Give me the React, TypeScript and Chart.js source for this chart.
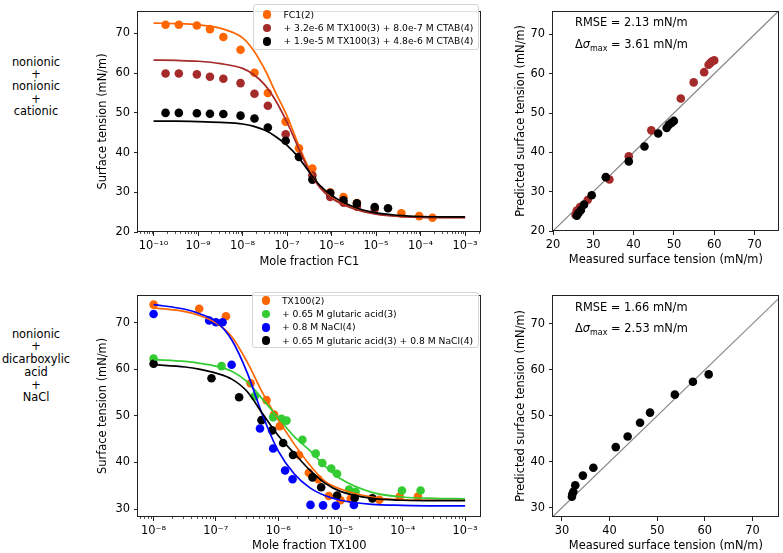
import React, { useEffect, useRef } from 'react';
import { Chart, registerables } from 'chart.js';

Chart.register(...registerables);

const FONT = "'DejaVu Sans', 'Liberation Sans', sans-serif";
const FS = 11.4;
Chart.defaults.font.family = FONT;
Chart.defaults.font.size = FS;
Chart.defaults.color = '#000';

const ORANGE = '#ff6600';
const BROWN = '#a52a2a';
const GREEN = '#33cc33';
const BLUE = '#0000ff';
const BLACK = '#000000';
const DIAG = '#888888';

// ---------- Top-left: FC1 system (measured points) ----------
const fc1X = [1.86e-10, 3.7e-10, 9.4e-10, 1.85e-9, 3.7e-9, 9.0e-9, 1.85e-8, 3.7e-8, 9.3e-8, 1.85e-7, 3.7e-7, 9.3e-7, 1.85e-6, 3.7e-6, 3.7e-5, 9.3e-5, 1.85e-4];
const fc1Y = [72.2, 72.2, 72.0, 71.1, 69.1, 65.9, 60.1, 55.0, 47.8, 41.1, 36.0, 30.0, 28.8, 27.3, 24.7, 24.0, 23.6];
const fc1MixAX = [1.86e-10, 3.7e-10, 9.4e-10, 1.85e-9, 3.7e-9, 9.0e-9, 1.85e-8, 3.7e-8, 9.3e-8, 1.85e-7, 3.7e-7, 9.3e-7, 1.85e-6, 3.7e-6, 9.3e-6];
const fc1MixAY = [59.9, 59.9, 59.7, 59.1, 58.6, 57.5, 54.8, 51.8, 44.6, 39.0, 34.3, 28.8, 27.4, 26.4, 25.8];
const fc1MixBX = [1.86e-10, 3.7e-10, 9.4e-10, 1.85e-9, 3.7e-9, 9.0e-9, 1.85e-8, 3.7e-8, 9.3e-8, 1.85e-7, 3.7e-7, 9.3e-7, 1.85e-6, 3.7e-6, 9.3e-6, 1.85e-5];
const fc1MixBY = [50.0, 50.0, 49.9, 49.8, 49.7, 49.3, 48.6, 46.3, 43.0, 38.9, 33.2, 29.8, 28.0, 27.2, 26.3, 26.0];

// fitted curves
const fc1CurveX = [1e-10, 3.2e-10, 1e-9, 3.2e-9, 1e-8, 1.8e-8, 3.2e-8, 5.6e-8, 1e-7, 1.8e-7, 3.2e-7, 5.6e-7, 1e-6, 3.2e-6, 1e-5, 3.2e-5, 1e-4, 3.2e-4, 1e-3];
const fc1CurveY = [72.6, 72.5, 72.2, 71.3, 68.9, 65.6, 60.8, 55.0, 49.2, 42.0, 35.7, 31.3, 28.7, 25.9, 24.6, 24.0, 23.8, 23.7, 23.7];
const fc1MixACurveY = [63.3, 63.2, 63.0, 62.4, 61.2, 59.6, 57.0, 53.0, 47.6, 41.2, 35.2, 31.0, 28.5, 25.8, 24.5, 23.9, 23.7, 23.6, 23.6];
const fc1MixBCurveY = [47.9, 47.9, 47.8, 47.6, 47.2, 46.6, 45.6, 44.0, 41.8, 38.8, 35.0, 31.6, 29.2, 26.3, 24.8, 24.2, 23.9, 23.8, 23.8];

// ---------- Bottom-left: TX100 system ----------
const tx100X = [1e-8, 5.4e-8, 1.45e-7, 3.6e-7, 6.5e-7, 8.6e-7, 1.06e-6, 2.16e-6, 3.1e-6, 4.4e-6, 6.5e-6, 1.0e-5, 1.46e-5, 4.2e-5, 8.9e-5, 1.75e-4];
const tx100Y = [73.9, 73.0, 71.4, 57.0, 53.4, 50.3, 47.8, 41.6, 37.8, 36.4, 32.8, 31.9, 32.2, 32.0, 32.7, 32.7];
const glutX = [1e-8, 1.23e-7, 4.2e-7, 8.3e-7, 1.13e-6, 1.36e-6, 2.45e-6, 4.0e-6, 5.1e-6, 7.1e-6, 8.8e-6, 1.37e-5, 1.75e-5, 9.7e-5, 1.93e-4];
const glutY = [62.3, 60.7, 54.2, 49.7, 49.4, 49.0, 44.9, 41.9, 39.9, 38.7, 37.6, 34.2, 33.7, 34.0, 34.0];
const naclX = [1e-8, 7.8e-8, 1e-7, 1.28e-7, 1.79e-7, 5.1e-7, 8.3e-7, 1.29e-6, 1.7e-6, 3.3e-6, 5.25e-6, 8.4e-6, 1.64e-5];
const naclY = [71.9, 70.5, 70.1, 70.1, 61.0, 47.3, 43.0, 38.3, 36.4, 30.9, 30.8, 30.7, 30.9];
const bothX = [1e-8, 8.5e-8, 2.36e-7, 5.4e-7, 8.0e-7, 1.2e-6, 1.73e-6, 3.55e-6, 4.9e-6, 8.8e-6, 1.69e-5, 3.25e-5];
const bothY = [61.2, 58.1, 54.0, 49.1, 46.9, 44.2, 41.6, 36.8, 34.7, 32.9, 32.4, 32.3];

const tx100CurveX = [1e-8, 3.2e-8, 5.6e-8, 1e-7, 1.8e-7, 3.2e-7, 5.6e-7, 1e-6, 1.8e-6, 3.2e-6, 5.6e-6, 1e-5, 3.2e-5, 1e-4, 3.2e-4, 1e-3];
const tx100CurveY = [73.2, 72.4, 71.5, 70.0, 67.0, 61.5, 55.0, 49.2, 44.0, 39.5, 36.0, 34.3, 32.6, 32.0, 31.9, 31.9];
const glutCurveY = [62.1, 61.7, 61.3, 60.7, 59.6, 57.3, 53.6, 49.6, 45.6, 42.6, 39.3, 36.5, 33.6, 32.6, 32.3, 32.2];
const naclCurveY = [73.9, 72.9, 71.9, 70.3, 66.3, 59.2, 50.2, 42.5, 37.6, 34.6, 32.9, 31.9, 31.0, 30.8, 30.7, 30.7];
const bothCurveY = [61.0, 60.5, 60.0, 59.2, 57.9, 55.2, 50.5, 45.8, 42.0, 38.4, 35.6, 33.8, 32.3, 31.9, 31.8, 31.8];

// ---------- Right panels: parity plots ----------
const parityAMeasured = [60.0, 59.4, 59.0, 58.6, 57.5, 54.9, 51.7, 44.4, 38.8, 34.0, 28.6, 26.7, 25.9, 25.6];
const parityAPredicted = [63.4, 63.1, 62.7, 62.3, 60.4, 57.8, 53.7, 45.6, 39.0, 33.1, 27.9, 26.1, 25.2, 24.1];
const parityBMeasured = [50.0, 49.4, 48.75, 48.2, 46.1, 42.7, 38.8, 33.1, 29.6, 27.7, 26.9, 26.3, 25.9];
const parityBPredicted = [48.0, 47.5, 47.0, 46.2, 44.8, 41.5, 37.7, 33.7, 29.1, 26.7, 25.3, 24.5, 23.9];
const parityCMeasured = [60.8, 57.5, 53.7, 48.5, 46.4, 43.8, 41.3, 36.6, 34.4, 32.8, 32.4, 32.2, 32.1];
const parityCPredicted = [59.0, 57.4, 54.6, 50.7, 48.5, 45.5, 43.2, 38.7, 37.0, 34.9, 33.5, 33.0, 32.4];
const diagonal = [0, 100];

// ---------- tick values ----------
const fc1Decades = [1e-10, 1e-9, 1e-8, 1e-7, 1e-6, 1e-5, 1e-4, 1e-3];
const tx100Decades = [1e-8, 1e-7, 1e-6, 1e-5, 1e-4, 1e-3];
const ticksFrom20 = [20, 30, 40, 50, 60, 70];
const ticksFrom30 = [30, 40, 50, 60, 70];

// ---------- texts ----------
const fc1Legend = ['FC1(2)', '+ 3.2e-6 M TX100(3) + 8.0e-7 M CTAB(4)', '+ 1.9e-5 M TX100(3) + 4.8e-6 M CTAB(4)'];
const tx100Legend = ['TX100(2)', '+ 0.65 M glutaric acid(3)', '+ 0.8 M NaCl(4)', '+ 0.65 M glutaric acid(3) + 0.8 M NaCl(4)'];
const groupTop = ['nonionic', '+', 'nonionic', '+', 'cationic'];
const groupBottom = ['nonionic', '+', 'dicarboxylic', 'acid', '+', 'NaCl'];

const SUP: Record<string, string> = { '-': '⁻', '0': '⁰', '1': '¹', '2': '²', '3': '³', '4': '⁴', '5': '⁵', '6': '⁶', '7': '⁷', '8': '⁸', '9': '⁹' };
const powLabel = (v: number) => '10' + String(Math.round(Math.log10(v))).split('').map((c) => SUP[c]).join('');

const zip = (xs: number[], ys: number[]) => xs.map((x, i) => ({ x, y: ys[i] }));
const zipSame = (xs: number[]) => xs.map((x) => ({ x, y: x }));

const pts = (label: string, xs: number[], ys: number[], color: string, order: number) => ({
  label, data: zip(xs, ys), backgroundColor: color, borderColor: color,
  pointRadius: 4.3, pointHoverRadius: 4.3, pointBorderWidth: 0, showLine: false, order,
});
const curve = (label: string, data: { x: number; y: number }[], color: string, order: number, width = 1.7) => ({
  label, data, borderColor: color, backgroundColor: color, borderWidth: width,
  pointRadius: 0, pointHoverRadius: 0, showLine: true, fill: false,
  cubicInterpolationMode: 'monotone', order,
});

const framePlugin = {
  id: 'frame',
  afterDraw(chart: any) {
    const { ctx, chartArea: a } = chart;
    ctx.save();
    ctx.strokeStyle = '#222';
    ctx.lineWidth = 1;
    const l = Math.round(a.left) - 0.5, t = Math.round(a.top) + 0.5;
    const r = Math.round(a.right) - 0.5, b = Math.round(a.bottom) - 0.5;
    ctx.strokeRect(l, t, r - l, b - t);
    // minor ticks on log x axes
    const sc = chart.scales.x;
    if (sc && sc.type === 'logarithmic') {
      ctx.lineWidth = 0.8;
      const lo = Math.floor(Math.log10(sc.min)), hi = Math.ceil(Math.log10(sc.max));
      for (let e = lo; e <= hi; e++) {
        for (let m = 2; m <= 9; m++) {
          const v = m * Math.pow(10, e);
          if (v < sc.min || v > sc.max) continue;
          const x = Math.round(sc.getPixelForValue(v)) + 0.5;
          ctx.beginPath();
          ctx.moveTo(x, b);
          ctx.lineTo(x, b + 2.5);
          ctx.stroke();
        }
      }
    }
    ctx.restore();
  },
};

const tickFont = { family: FONT, size: FS };
const gridOpts = { drawOnChartArea: false, drawTicks: true, tickLength: 4, color: '#222', lineWidth: 1 };

type AxisSpec = {
  type: 'linear' | 'logarithmic'; min: number; max: number; ticks: number[];
  title: string; size: number; titlePad: number; log?: boolean;
};

function axis(spec: AxisSpec, isX: boolean) {
  const a: any = {
    type: spec.type, min: spec.min, max: spec.max, position: isX ? 'bottom' : 'left',
    afterFit: (s: any) => { if (isX) s.height = spec.size; else s.width = spec.size; },
    afterBuildTicks: (s: any) => {
      s.ticks = spec.ticks.filter((v) => v >= s.min && v <= s.max).map((v) => ({ value: v }));
    },
    ticks: {
      autoSkip: false, maxRotation: 0, minRotation: 0, padding: isX ? 3 : 4,
      color: '#000', font: tickFont, includeBounds: false,
      callback: spec.type === 'logarithmic' ? (v: any) => powLabel(Number(v)) : (v: any) => String(v),
    },
    grid: gridOpts,
    border: { display: false },
    title: {
      display: true, text: spec.title, color: '#000', font: tickFont,
      padding: isX ? { top: 0, bottom: spec.titlePad } : { top: spec.titlePad, bottom: 0 },
    },
  };
  return a;
}

function config(datasets: any[], x: AxisSpec, y: AxisSpec, padding: any) {
  return {
    type: 'scatter',
    data: { datasets },
    options: {
      animation: false, responsive: true, maintainAspectRatio: false, devicePixelRatio: 1,
      events: [],
      layout: { padding },
      plugins: { legend: { display: false }, tooltip: { enabled: false } },
      scales: { x: axis(x, true), y: axis(y, false) },
    },
    plugins: [framePlugin],
  };
}

function Panel({ left, top, width, height, build }: any) {
  const ref = useRef<HTMLCanvasElement>(null);
  useEffect(() => {
    const chart = new Chart(ref.current as HTMLCanvasElement, build());
    return () => chart.destroy();
  }, []);
  return (
    <div style={{ position: 'absolute', left, top, width, height }}>
      <canvas ref={ref} />
    </div>
  );
}

function Legend({ left, top, width, height, labels, colors, rows, markerX, textX }: any) {
  return (
    <div style={{
      position: 'absolute', left, top, width, height, boxSizing: 'border-box',
      border: '1px solid #d4d4d4', borderRadius: 3, background: 'rgba(255,255,255,0.85)',
      fontFamily: FONT, fontSize: 9.2, color: '#000',
    }}>
      {labels.map((t: string, i: number) => (
        <div key={i} style={{ position: 'absolute', left: 0, top: rows[i] - 7, height: 14, width: '100%' }}>
          <span style={{
            position: 'absolute', left: markerX - 4.3, top: 7 - 4.3, width: 8.6, height: 8.6,
            borderRadius: '50%', background: colors[i],
          }} />
          <span style={{ position: 'absolute', left: textX, top: 0, lineHeight: '14px', whiteSpace: 'nowrap' }}>{t}</span>
        </div>
      ))}
    </div>
  );
}

function Stats({ left, top, rmse, dmax }: any) {
  const base: any = { position: 'absolute', left, fontFamily: FONT, fontSize: FS, lineHeight: '14px', whiteSpace: 'nowrap', color: '#000' };
  return (
    <>
      <div style={{ ...base, top }}>RMSE = {rmse} mN/m</div>
      <div style={{ ...base, top: top + 21.6 }}>
        Δ<i>σ</i><span style={{ fontSize: 8, position: 'relative', top: 3 }}>max</span> = {dmax} mN/m
      </div>
    </>
  );
}

function Group({ top, lines, lh }: any) {
  return (
    <div style={{
      position: 'absolute', left: 0, top, width: 72, textAlign: 'center',
      fontFamily: FONT, fontSize: FS, lineHeight: lh + 'px', color: '#000',
    }}>
      {lines.map((l: string, i: number) => <div key={i}>{l}</div>)}
    </div>
  );
}

const buildTopLeft = () => config(
  [
    curve('FC1 fit', zip(fc1CurveX, fc1CurveY), ORANGE, 3),
    curve('mix A fit', zip(fc1CurveX, fc1MixACurveY), BROWN, 2),
    curve('mix B fit', zip(fc1CurveX, fc1MixBCurveY), BLACK, 1),
    pts(fc1Legend[0], fc1X, fc1Y, ORANGE, 13),
    pts(fc1Legend[1], fc1MixAX, fc1MixAY, BROWN, 12),
    pts(fc1Legend[2], fc1MixBX, fc1MixBY, BLACK, 11),
  ],
  { type: 'logarithmic', min: 4.47e-11, max: 2.24e-3, ticks: fc1Decades, title: 'Mole fraction FC1', size: 46, titlePad: 9.5 },
  { type: 'linear', min: 20, max: 75.7, ticks: ticksFrom20, title: 'Surface tension (mN/m)', size: 48, titlePad: 6 },
  { left: 0, top: 2, right: 4, bottom: 0 },
);

const buildBottomLeft = () => config(
  [
    curve('TX100 fit', zip(tx100CurveX, tx100CurveY), ORANGE, 4),
    curve('glut fit', zip(tx100CurveX, glutCurveY), GREEN, 3),
    curve('NaCl fit', zip(tx100CurveX, naclCurveY), BLUE, 2),
    curve('both fit', zip(tx100CurveX, bothCurveY), BLACK, 1),
    pts(tx100Legend[0], tx100X, tx100Y, ORANGE, 14),
    pts(tx100Legend[1], glutX, glutY, GREEN, 13),
    pts(tx100Legend[2], naclX, naclY, BLUE, 12),
    pts(tx100Legend[3], bothX, bothY, BLACK, 11),
  ],
  { type: 'logarithmic', min: 5.62e-9, max: 1.78e-3, ticks: tx100Decades, title: 'Mole fraction TX100', size: 36, titlePad: 0 },
  { type: 'linear', min: 28.3, max: 76, ticks: ticksFrom30, title: 'Surface tension (mN/m)', size: 48, titlePad: 6 },
  { left: 0, top: 3, right: 4, bottom: 0 },
);

const buildTopRight = () => config(
  [
    curve('y = x', zipSame(diagonal), DIAG, 20, 1.2),
    pts('mix A', parityAMeasured, parityAPredicted, BROWN, 12),
    pts('mix B', parityBMeasured, parityBPredicted, BLACK, 11),
  ],
  { type: 'linear', min: 20, max: 76, ticks: ticksFrom20, title: 'Measured surface tension (mN/m)', size: 47, titlePad: 11 },
  { type: 'linear', min: 20, max: 76, ticks: ticksFrom20, title: 'Predicted surface tension (mN/m)', size: 53, titlePad: 14 },
  { left: 0, top: 2, right: 2, bottom: 0 },
);

const buildBottomRight = () => config(
  [
    curve('y = x', zipSame(diagonal), DIAG, 20, 1.2),
    pts('mix', parityCMeasured, parityCPredicted, BLACK, 11),
  ],
  { type: 'linear', min: 28.13, max: 75.5, ticks: ticksFrom30, title: 'Measured surface tension (mN/m)', size: 36, titlePad: 0 },
  { type: 'linear', min: 28.0, max: 76.3, ticks: ticksFrom30, title: 'Predicted surface tension (mN/m)', size: 53, titlePad: 14 },
  { left: 0, top: 2, right: 2, bottom: 0 },
);

export default function App() {
  return (
    <div style={{ position: 'absolute', left: 0, top: 0, width: 783, height: 553, overflow: 'hidden', background: '#fff' }}>
      <Panel left={90} top={0} width={395} height={278} build={buildTopLeft} />
      <Panel left={90} top={284} width={395} height={269} build={buildBottomLeft} />
      <Panel left={500} top={0} width={283} height={278} build={buildTopRight} />
      <Panel left={500} top={284} width={283} height={269} build={buildBottomRight} />
      <Legend left={253} top={4} width={226} height={46} labels={fc1Legend}
        colors={[ORANGE, BROWN, BLACK]} rows={[9.8, 23.1, 36.4]} markerX={13} textX={29.5} />
      <Legend left={252} top={292} width={227} height={56} labels={tx100Legend}
        colors={[ORANGE, GREEN, BLUE, BLACK]} rows={[7.7, 21, 34.3, 47.6]} markerX={13} textX={29} />
      <Stats left={575} top={15} rmse="2.13" dmax="3.61" />
      <Stats left={575} top={299.5} rmse="1.66" dmax="2.53" />
      <Group top={55.5} lines={groupTop} lh={12.4} />
      <Group top={327.5} lines={groupBottom} lh={12.8} />
    </div>
  );
}
